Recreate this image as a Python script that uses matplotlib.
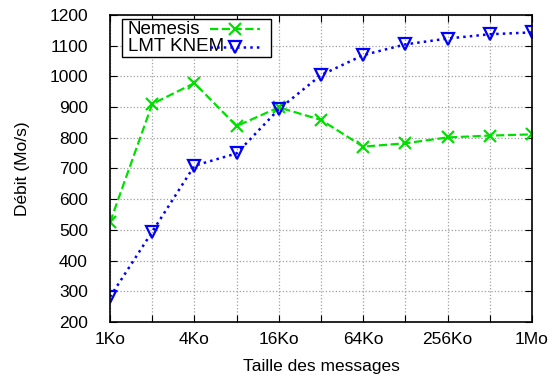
import numpy as np
from matplotlib import pyplot as plt
from matplotlib.patches import Rectangle

plt.rcParams['font.family'] = ['Liberation Sans', 'DejaVu Sans']

# tailles des messages (octets)
sizes = [2 ** k for k in range(10, 21)]
tick_labels = ['1Ko', '', '4Ko', '', '16Ko', '', '64Ko', '', '256Ko', '', '1Mo']
nemesis = [525, 910, 978, 838, 899, 858, 771, 782, 801, 807, 811]
knem = [282, 494, 709, 749, 893, 1004, 1069, 1104, 1123, 1137, 1143]

fig = plt.figure(figsize=(5.53, 3.82), dpi=100)
ax = fig.add_axes([0.199, 0.157, 0.763, 0.804])

green = dict(color='#00e000', linestyle='--', linewidth=1.6,
             marker='x', markersize=8, markeredgewidth=1.6)
blue = dict(color='#0000ff', linestyle=':', linewidth=1.8,
            marker='v', markersize=9, markerfacecolor='none', markeredgewidth=1.6)

ax.plot(sizes, nemesis, **green)
ax.plot(sizes, knem, **blue)

ax.set_xscale('log', base=2)
ax.set_xlim(sizes[0], sizes[-1])
ax.set_xticks(sizes)
ax.set_xticklabels(tick_labels)
ax.minorticks_off()
ax.set_ylim(200, 1200)
ax.set_yticks(range(200, 1201, 100))

ax.grid(True, color='#a0a0a0', linestyle=':', linewidth=0.9)
ax.tick_params(direction='in', top=True, right=True, labelsize=12.5, length=5)
ax.tick_params(axis='x', pad=7)
ax.tick_params(axis='y', pad=16)
for s in ax.spines.values():
    s.set_linewidth(1.2)

ax.set_xlabel('Taille des messages', fontsize=12.5, labelpad=9)
ax.set_ylabel('Débit (Mo/s)', fontsize=12.5, labelpad=14)

# légende façon gnuplot : texte à gauche, échantillon à droite
ax.add_patch(Rectangle((0.028, 0.863), 0.353, 0.124, transform=ax.transAxes,
                       facecolor='white', edgecolor='black', linewidth=1.0, zorder=5))
for yy, name, style in [(0.954, 'Nemesis', green), (0.896, 'LMT KNEM', blue)]:
    ax.text(0.042, yy, name, transform=ax.transAxes, fontsize=13.5,
            va='center', ha='left', zorder=6)
    st = dict(style)
    st.pop('marker')
    ax.plot([0.237, 0.356], [yy, yy], transform=ax.transAxes, zorder=7, **st)
    mk = dict(style)
    mk['linestyle'] = 'none'
    ax.plot([0.296], [yy], transform=ax.transAxes, zorder=7, **mk)

plt.savefig('out.png', dpi=100)
